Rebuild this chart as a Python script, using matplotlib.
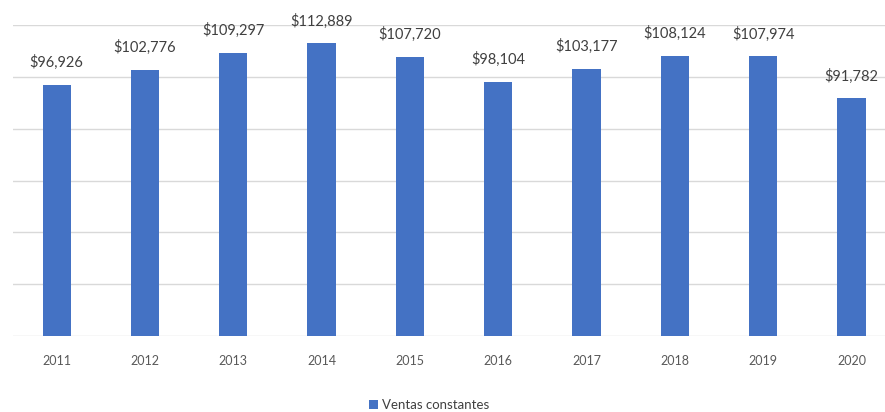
import numpy as np
import matplotlib.pyplot as plt
from matplotlib.patches import Patch

plt.rcParams['font.family'] = ['Lato', 'DejaVu Sans']

# datos
years = ['2011', '2012', '2013', '2014', '2015', '2016', '2017', '2018', '2019', '2020']
ventas = [96926, 102776, 109297, 112889, 107720, 98104, 103177, 108124, 107974, 91782]

bar_color = '#4472C4'

fig = plt.figure(figsize=(8.85, 4.12), dpi=100)
ax = fig.add_axes([12.5 / 885, 76 / 412, 1 - 12.5 / 885, 311 / 412])

x = np.arange(len(years))
ax.bar(x, ventas, width=0.32, color=bar_color, zorder=3)

# etiquetas de datos
for xi, v in zip(x, ventas):
    ax.annotate('${:,}'.format(v), (xi, v), xytext=(0, 16), textcoords='offset points',
                ha='center', va='center', fontsize=10.5, color='#404040')

ax.set_ylim(0, 120000)
ax.set_yticks(np.arange(0, 120001, 20000))
ax.set_xlim(-0.5, 9.38)
ax.set_xticks(x)
ax.set_xticklabels(years, fontsize=9, color='#595959')
ax.tick_params(axis='both', length=0)
ax.tick_params(axis='x', pad=14)
ax.set_yticklabels([])
ax.grid(axis='y', color='#d9d9d9', linewidth=1, zorder=0)
for s in ax.spines.values():
    s.set_visible(False)

handle = Patch(facecolor=bar_color, edgecolor='none')
fig.legend([handle], ['Ventas constantes'], loc='lower center', bbox_to_anchor=(0.485, -0.005),
           frameon=False, fontsize=9.5, handlelength=0.7, handleheight=0.7,
           handletextpad=0.3, labelcolor='#404040', borderaxespad=0.1, borderpad=0.1)

fig.savefig('out.png', dpi=100)
